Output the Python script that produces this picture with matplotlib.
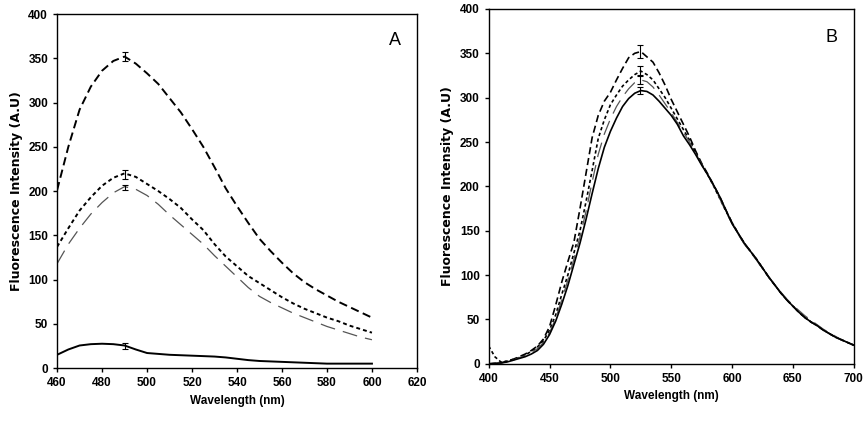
import matplotlib
matplotlib.use("Agg")
import matplotlib.pyplot as plt

# ---------------- Panel A data ----------------
wl_a = [460, 465, 470, 475, 480, 485, 490, 495, 500, 505, 510, 515, 520, 525, 530,
        535, 540, 545, 550, 555, 560, 565, 570, 575, 580, 585, 590, 595, 600]
a_dash = [201, 250, 292, 318, 336, 347, 352, 344, 333, 321, 305, 289, 270, 250, 227,
          203, 183, 164, 146, 132, 119, 107, 97, 89, 82, 75, 69, 63, 57]
a_dot = [137, 158, 178, 193, 206, 215, 220, 216, 208, 200, 191, 181, 168, 156, 140,
         126, 115, 104, 96, 88, 80, 73, 67, 62, 57, 53, 48, 44, 40]
a_long = [118, 140, 158, 174, 187, 198, 205, 202, 195, 185, 173, 162, 151, 140, 127,
          115, 103, 91, 81, 74, 68, 62, 57, 52, 47, 43, 39, 35, 32]
a_solid = [15, 21, 25.5, 27, 27.5, 27, 25.5, 21, 17, 16, 15, 14.5, 14, 13.5, 13,
           12, 10.5, 9, 8, 7.5, 7, 6.5, 6, 5.5, 5, 5, 5, 5, 5]
a_err_x = 490
a_err_val = {"dash": 352, "dot": 219, "long": 204, "solid": 25}
a_err_size = {"dash": 5, "dot": 5, "long": 3, "solid": 3}

# ---------------- Panel B data ----------------
wl_b = [400, 405, 410, 415, 420, 425, 430, 435, 440, 445, 450, 455, 460, 465, 470,
        475, 480, 485, 490, 495, 500, 505, 510, 515, 520, 525, 530, 535, 540, 545,
        550, 555, 560, 565, 570, 575, 580, 585, 590, 595, 600, 605, 610, 615, 620,
        625, 630, 635, 640, 645, 650, 655, 660, 665, 670, 675, 680, 685, 690, 695, 700]
b_dash = [0, 0.5, 1, 3, 5, 8, 11, 15, 20, 28, 42, 66, 92, 115, 137,
          175, 215, 255, 280, 296, 306, 320, 333, 345, 350, 352, 346, 340, 328, 314,
          298, 284, 270, 256, 240, 226, 214, 201, 188, 173, 159, 147, 136, 127, 118,
          108, 98, 89, 80, 72, 65, 58, 52, 47, 43, 38, 34, 30, 27, 24, 21]
b_dot = [20, 8, 2, 3, 5, 7, 10, 14, 19, 26, 38, 55, 78, 100, 125,
         150, 183, 218, 254, 275, 292, 303, 313, 320, 326, 330, 326, 320, 310, 300,
         288, 276, 264, 252, 238, 225, 213, 200, 186, 172, 159, 147, 136, 127, 118,
         108, 98, 89, 80, 72, 65, 58, 52, 47, 43, 38, 34, 30, 27, 24, 21]
b_long = [0, 0.5, 1, 2, 4, 7, 9, 13, 17, 24, 35, 51, 72, 94, 118,
          143, 172, 205, 236, 259, 276, 290, 301, 310, 317, 320, 318, 312, 303, 293,
          283, 272, 261, 250, 237, 225, 213, 200, 186, 171, 158, 146, 135, 126, 117,
          107, 98, 89, 81, 73, 66, 60, 54, 49, 44, 39, 35, 31, 27, 24, 21]
b_solid = [0, 0.5, 1, 2, 4, 6, 8, 11, 15, 22, 33, 48, 67, 88, 112,
           136, 163, 192, 220, 244, 262, 277, 290, 299, 305, 308, 307, 303, 296, 288,
           280, 270, 257, 247, 236, 224, 213, 201, 188, 173, 158, 147, 136, 127, 118,
           108, 98, 89, 80, 72, 65, 58, 52, 47, 43, 38, 34, 30, 27, 24, 21]
b_err_x = 524
b_err_val = {"dash": 352, "dot": 330, "long": 320, "solid": 308}
b_err_size = {"dash": 7, "dot": 6, "long": 5, "solid": 4}

yticks = [0, 50, 100, 150, 200, 250, 300, 350, 400]
xticks_a = [460, 480, 500, 520, 540, 560, 580, 600, 620]
xticks_b = [400, 450, 500, 550, 600, 650, 700]

plt.rcParams['font.family'] = ['Liberation Sans', 'DejaVu Sans']

fig = plt.figure(figsize=(8.65, 4.26), dpi=100)
axA = fig.add_axes([0.066, 0.136, 0.416, 0.831])
axB = fig.add_axes([0.565, 0.146, 0.422, 0.833])

styles = {
    "dash": dict(color="black", lw=1.4, dashes=(4.3, 2.3)),
    "dot": dict(color="black", lw=1.4, dashes=(2.0, 1.6)),
    "long": dict(color="#555555", lw=0.9, dashes=(12, 6.5)),
    "solid": dict(color="black", lw=1.4, linestyle="-"),
}

panels = [
    (axA, wl_a, {"dash": a_dash, "dot": a_dot, "long": a_long, "solid": a_solid},
     a_err_x, a_err_val, a_err_size),
    (axB, wl_b, {"dash": b_dash, "dot": b_dot, "long": b_long, "solid": b_solid},
     b_err_x, b_err_val, b_err_size),
]

for ax, wl, series, errx, evals, esizes in panels:
    for key, vals in series.items():
        st = dict(styles[key])
        if ax is axB and key != "long":
            st["lw"] = 1.2
        ax.plot(wl, vals, **st)
        ax.errorbar([errx], [evals[key]], yerr=[esizes[key]], fmt='none',
                    ecolor="black", elinewidth=0.8, capsize=2, capthick=0.8)
    ax.set_ylim(0, 400)
    ax.set_yticks(yticks)
    ax.set_ylabel("Fluorescence Intensity (A.U)", fontsize=9, fontweight='bold',
                  family=['DejaVu Sans'])
    ax.set_xlabel("Wavelength (nm)", fontsize=8.5, fontweight='bold')
    ax.tick_params(direction='out', length=3, width=1, labelsize=8.5)
    for sp in ax.spines.values():
        sp.set_linewidth(1.0)

axA.set_xlim(460, 620)
axA.set_xticks(xticks_a)
axB.set_xlim(400, 700)
axB.set_xticks(xticks_b)
for ax in (axA, axB):
    for lab in ax.get_xticklabels() + ax.get_yticklabels():
        lab.set_fontweight('bold')

axA.text(0.94, 0.925, "A", transform=axA.transAxes, fontsize=13, ha='center', va='center')
axB.text(0.94, 0.92, "B", transform=axB.transAxes, fontsize=13, ha='center', va='center')

fig.savefig("out.png", dpi=100)
